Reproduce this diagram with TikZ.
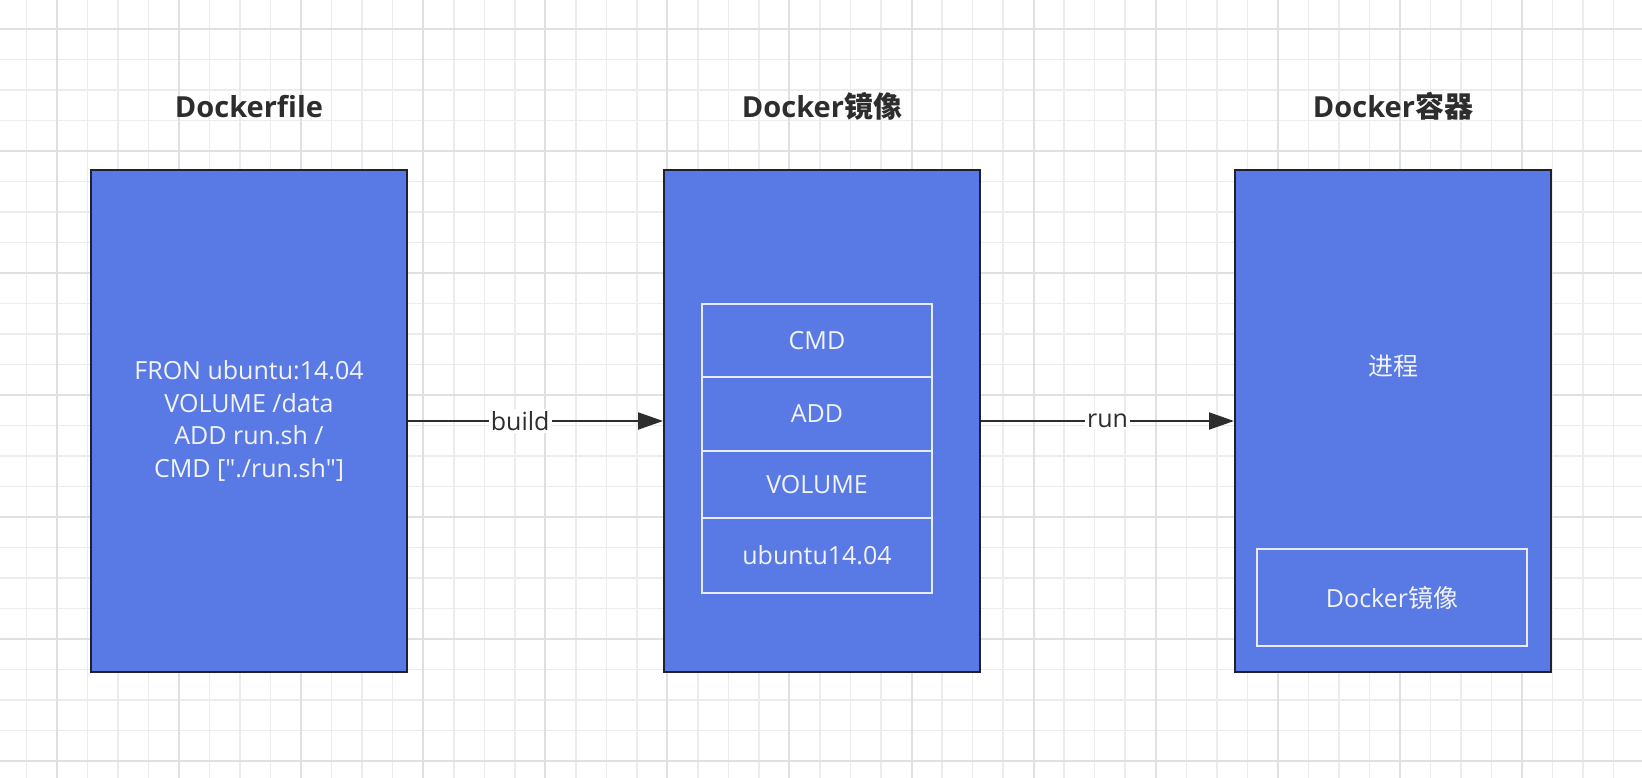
\documentclass[tikz,border=0pt]{standalone}
\usepackage{fontspec}
\setmainfont{Open Sans}
\newfontfamily\rawlatin{Open Sans}[Ligatures=ResetAll]
\newfontfamily\cjk{Noto Sans CJK SC}
\usetikzlibrary{arrows.meta}
\definecolor{boxfill}{RGB}{89,121,229}
\definecolor{boxline}{RGB}{30,34,48}
\definecolor{inline}{RGB}{232,236,248}
\definecolor{txtw}{RGB}{242,244,250}
\definecolor{head}{RGB}{45,45,45}
\definecolor{gridminor}{RGB}{236,236,236}
\definecolor{gridmajor}{RGB}{224,224,224}
\definecolor{arrcol}{RGB}{45,45,45}
\tikzset{
  bigbox/.style={draw=boxline, line width=2pt, fill=boxfill, minimum width=316pt, minimum height=502pt, inner sep=0pt, text=txtw, align=center, font=\rawlatin\fontsize{25}{32.7}\selectfont},
  cellbox/.style={draw=inline, line width=2.5pt, minimum width=230pt, inner sep=0pt, text=txtw, font=\fontsize{25}{30}\selectfont},
  plain/.style={inner sep=0pt, text=txtw, font=\fontsize{25}{30}\selectfont},
  header/.style={inner sep=0pt, anchor=base, text=head, font=\fontsize{29}{34}\selectfont\bfseries},
  arr/.style={draw=arrcol, line width=2pt, -{Triangle[length=25pt, width=17pt]}},
  lbl/.style={fill=white, inner sep=2pt, text=head, font=\fontsize{25}{30}\selectfont},
}
\begin{document}
\begin{tikzpicture}[x=1pt, y=-1pt]
\useasboundingbox (0,0) rectangle (1642,778);
\fill[white] (0,0) rectangle (1642,778);
% grid
\foreach \k in {0,...,52} {
  \draw[gridminor, line width=1.5pt] ({26.48+30.52*\k},0) -- ({26.48+30.52*\k},778);
}
\foreach \k in {0,...,24} {
  \draw[gridminor, line width=1.5pt] (0,{29+30.5*\k}) -- (1642,{29+30.5*\k});
}
\foreach \k in {0,...,12} {
  \draw[gridmajor, line width=2pt] ({57+122.08*\k},0) -- ({57+122.08*\k},778);
}
\foreach \k in {0,...,6} {
  \draw[gridmajor, line width=2pt] (0,{29+122*\k}) -- (1642,{29+122*\k});
}
% headers
\node[header] (h1) at (249,117.5) {Dockerfile};
\node[header] (h2) at (822,117.5) {Docker{\cjk\bfseries 镜像}};
\node[header] (h3) at (1393,117.5) {Docker{\cjk\bfseries 容器}};
% boxes
\node[bigbox] (df) at (249,421) {FRON ubuntu:14.04\\VOLUME /data\\ADD run.sh /\\CMD ["./run.sh"]};
\node[bigbox] (di) at (822,421) {};
\node[bigbox] (dc) at (1393,421) {};
% image layers
\node[cellbox, minimum height=73pt] (c1) at (817,340.5) {CMD};
\node[cellbox, minimum height=74pt] (c2) at (817,414) {ADD};
\node[cellbox, minimum height=67pt] (c3) at (817,484.5) {VOLUME};
\node[cellbox, minimum height=75pt] (c4) at (817,555.5) {ubuntu14.04};
% container
\node[plain] (proc) at (1393,366) {\cjk 进程};
\node[cellbox, minimum width=270pt, minimum height=97pt] (img) at (1392,597.5) {Docker{\cjk 镜像}};
% arrows
\draw[arr] (df.east) -- node[lbl, pos=0.44] {build} (di.west);
\draw[arr] (di.east) -- node[lbl, pos=0.5] {run} (dc.west);
\end{tikzpicture}
\end{document}
